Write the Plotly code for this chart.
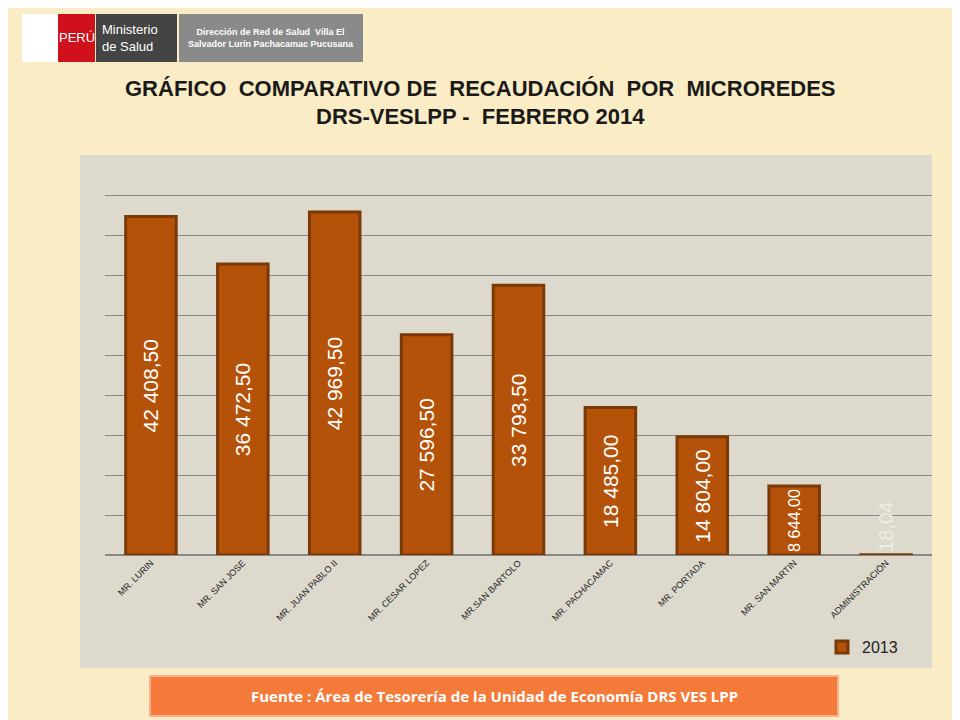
import plotly.graph_objects as go

categories = ["MR. LURIN", "MR. SAN JOSE", "MR. JUAN PABLO II", "MR. CESAR LOPEZ", "MR.SAN BARTOLO",
              "MR. PACHACAMAC", "MR. PORTADA", "MR. SAN MARTIN", "ADMINISTRACIÓN"]
values = [42408.50, 36472.50, 42969.50, 27596.50, 33793.50, 18485.00, 14804.00, 8644.00, 18.04]
labels = ["42 408,50", "36 472,50", "42 969,50", "27 596,50", "33 793,50", "18 485,00", "14 804,00", "8 644,00", "18,04"]
series_name = "2013"

OFF = 8
W, H = 952, 712
L, R, T, B = 105 - OFF, 28, 156 - OFF, 165

def px(x): return (x - OFF - L) / (W - L - R)
def py(y): return (H - B - (y - OFF)) / (H - T - B)

fig = go.Figure()
fig.add_trace(go.Bar(
    x=categories, y=values, name=series_name, text=labels,
    textposition=["inside"] * 8 + ["outside"], textangle=-90, insidetextanchor="middle",
    textfont=dict(family="Arial", size=21, color="white"),
    outsidetextfont=dict(family="Arial", size=21, color="#f0ede6"),
    marker=dict(color="#B5520A", line=dict(color="#7A3A08", width=3)),
    width=0.55, cliponaxis=False,
))

shapes = [
    dict(type="rect", xref="paper", yref="paper", x0=px(80), x1=px(932), y0=py(668), y1=py(155),
         fillcolor="#DDD9CD", line=dict(width=0), layer="below"),
    dict(type="rect", xref="paper", yref="paper", x0=px(22), x1=px(58), y0=py(62), y1=py(14),
         fillcolor="white", line=dict(width=0)),
    dict(type="rect", xref="paper", yref="paper", x0=px(58), x1=px(95), y0=py(62), y1=py(14),
         fillcolor="#D0101A", line=dict(width=0)),
    dict(type="rect", xref="paper", yref="paper", x0=px(96), x1=px(177), y0=py(62), y1=py(14),
         fillcolor="#444444", line=dict(width=0)),
    dict(type="rect", xref="paper", yref="paper", x0=px(179), x1=px(363), y0=py(62), y1=py(14),
         fillcolor="#8A8A8A", line=dict(width=0)),
    dict(type="rect", xref="paper", yref="paper", x0=px(150), x1=px(838), y0=py(716), y1=py(676),
         fillcolor="#F47A3A", line=dict(color="#F8B090", width=2)),
]

ann = [
    dict(text="PERÚ", x=px(77), y=py(38), font=dict(family="Arial", size=13, color="white")),
    dict(text="Ministerio<br>de Salud", x=px(100), y=py(38), xanchor="left", align="left",
         font=dict(family="Arial", size=13, color="white")),
    dict(text="<b>Dirección de Red de Salud  Villa El<br>Salvador Lurín Pachacamac Pucusana</b>", x=px(271), y=py(38),
         font=dict(family="Arial", size=9, color="white")),
    dict(text="<b>GRÁFICO  COMPARATIVO DE  RECAUDACIÓN  POR  MICROREDES</b>", x=px(480), y=py(88),
         font=dict(family="Arial", size=22, color="#1a1a1a")),
    dict(text="<b>DRS-VESLPP -  FEBRERO 2014</b>", x=px(480), y=py(117),
         font=dict(family="Arial", size=22, color="#1a1a1a")),
    dict(text="<b>Fuente : Área de Tesorería de la Unidad de Economía DRS VES LPP</b>", x=px(494), y=py(696),
         font=dict(family="Open Sans", size=15, color="white")),
]
for a in ann:
    a.update(xref="paper", yref="paper", showarrow=False)
    a.setdefault("xanchor", "center")
    a.setdefault("yanchor", "middle")

fig.update_layout(
    width=W, height=H, margin=dict(l=L, r=R, t=T, b=B),
    paper_bgcolor="#FAEDC6", plot_bgcolor="#DDD9CD",
    shapes=shapes, annotations=ann,
    showlegend=True,
    legend=dict(x=px(822), y=py(647), xanchor="left", yanchor="middle", bgcolor="rgba(0,0,0,0)",
                font=dict(family="Arial", size=16, color="#222")),
    xaxis=dict(tickangle=-45, tickfont=dict(family="Arial", size=9, color="#222"), showline=False,
               ticks=""),
    yaxis=dict(range=[0, 50000], dtick=5000, showticklabels=False, gridcolor="#888", gridwidth=1,
               zeroline=True, zerolinecolor="#888"),
    bargap=0.45,
)
fig.write_html("out.html")
